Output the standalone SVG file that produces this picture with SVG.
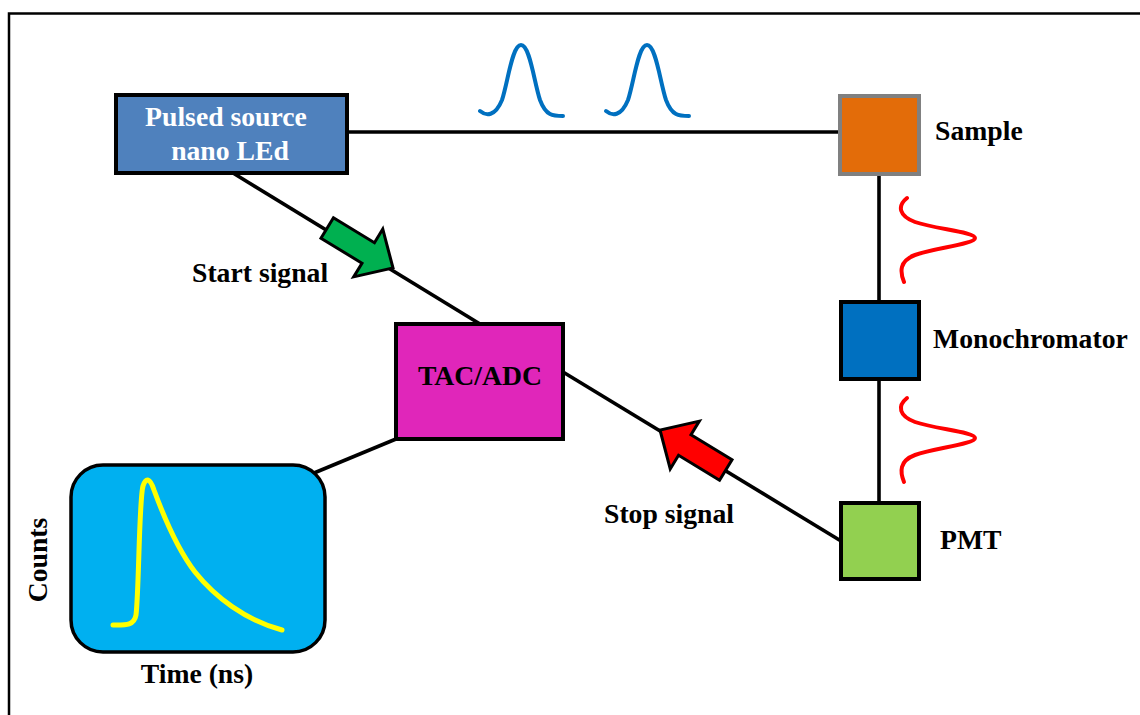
<svg xmlns="http://www.w3.org/2000/svg" width="1140" height="715" viewBox="0 0 1140 715">
<style>
.lbl{font-family:"Liberation Serif","Times New Roman",serif;font-weight:bold;font-size:27.7px;fill:#000}
.wl{font-family:"Liberation Serif","Times New Roman",serif;font-weight:bold;font-size:27.7px;fill:#fff}
.box{stroke:#000;stroke-width:4}
.conn{stroke:#000;stroke-width:3.6;fill:none}
.arr{stroke:#000;stroke-width:3;stroke-linejoin:miter}
.pulseB{fill:none;stroke:#0070C0;stroke-width:4;stroke-linecap:round}
.pulseR{fill:none;stroke:#FF0000;stroke-width:4;stroke-linecap:round}
</style>
<defs>
<polygon id="blockArrow" points="-77,-12 -29,-12 -29,-28 0,0 -29,28 -29,12 -77,12"/>
</defs>
<rect width="1140" height="715" fill="#fff"/>
<path d="M9,720 V13.5 H1145" fill="none" stroke="#000" stroke-width="2.5"/>

<g id="connectors">
<line class="conn" x1="347" y1="132" x2="840" y2="132"/>
<line class="conn" x1="879" y1="174" x2="879" y2="302"/>
<line class="conn" x1="879" y1="379" x2="879" y2="503"/>
<line class="conn" x1="233" y1="173" x2="480" y2="324"/>
<line class="conn" x1="563" y1="372" x2="841" y2="541"/>
<line class="conn" x1="396" y1="439" x2="314" y2="473"/>
<use href="#blockArrow" class="arr" fill="#00B050" transform="translate(393,268) rotate(31.3)"/>
<use href="#blockArrow" class="arr" fill="#FF0000" transform="translate(660,430) rotate(211.3)"/>
</g>

<g id="pulses">
<path class="pulseB" d="M480,111 C486,116 495,117 502,100 C508,82 512,45 521,45 C530,45 534,82 540,100 C546,116 553,116 563,116"/>
<path class="pulseB" d="M606,111 C612,116 621,117 628,100 C634,82 638,45 647,45 C656,45 660,82 666,100 C672,116 679,116 689,116"/>
<path class="pulseR" d="M907,198 C897,206 899,216 915,222 C935,229 975,232 975,238 C975,244 935,248 915,255 C899,261 900,272 904,282"/>
<path class="pulseR" d="M907,398 C897,406 899,416 915,422 C935,429 975,432 975,438 C975,444 935,448 915,455 C899,461 900,472 904,482"/>
</g>

<g id="pulsed-source">
<rect class="box" x="116" y="95" width="231" height="78" fill="#4F81BD"/>
<text class="wl" x="226" y="126" text-anchor="middle">Pulsed source</text>
<text class="wl" x="230" y="160" text-anchor="middle">nano LEd</text>
</g>

<g id="sample">
<rect x="840" y="96" width="79" height="78" fill="#E36C09" stroke="#808080" stroke-width="4"/>
<text class="lbl" x="935" y="140">Sample</text>
</g>

<g id="monochromator">
<rect class="box" x="841" y="302" width="78" height="77" fill="#0070C0"/>
<text class="lbl" x="933" y="348">Monochromator</text>
</g>

<g id="pmt">
<rect class="box" x="841" y="503" width="78" height="76" fill="#92D050"/>
<text class="lbl" x="940" y="549">PMT</text>
</g>

<g id="tac-adc">
<rect class="box" x="396" y="324" width="167" height="115" fill="#E026BA"/>
<text class="lbl" x="480" y="385" text-anchor="middle">TAC/ADC</text>
</g>

<g id="start-label">
<text class="lbl" x="192" y="282">Start signal</text>
</g>
<g id="stop-label">
<text class="lbl" x="604" y="523">Stop signal</text>
</g>

<g id="decay-plot">
<rect x="71" y="465" width="254" height="187" rx="32" ry="32" fill="#00B0F0" stroke="#000" stroke-width="3.5"/>
<path d="M113,625 C125,625 134,626 136,615 C139,590 139,500 143,486 C146,477 150,478 154,490 C165,520 178,550 195,572 C215,597 245,620 282,630" fill="none" stroke="#FFFF00" stroke-width="5" stroke-linecap="round" stroke-linejoin="round"/>
<text class="lbl" x="197" y="683" text-anchor="middle">Time (ns)</text>
<text class="lbl" transform="translate(47,560) rotate(-90)" text-anchor="middle">Counts</text>
</g>
</svg>
